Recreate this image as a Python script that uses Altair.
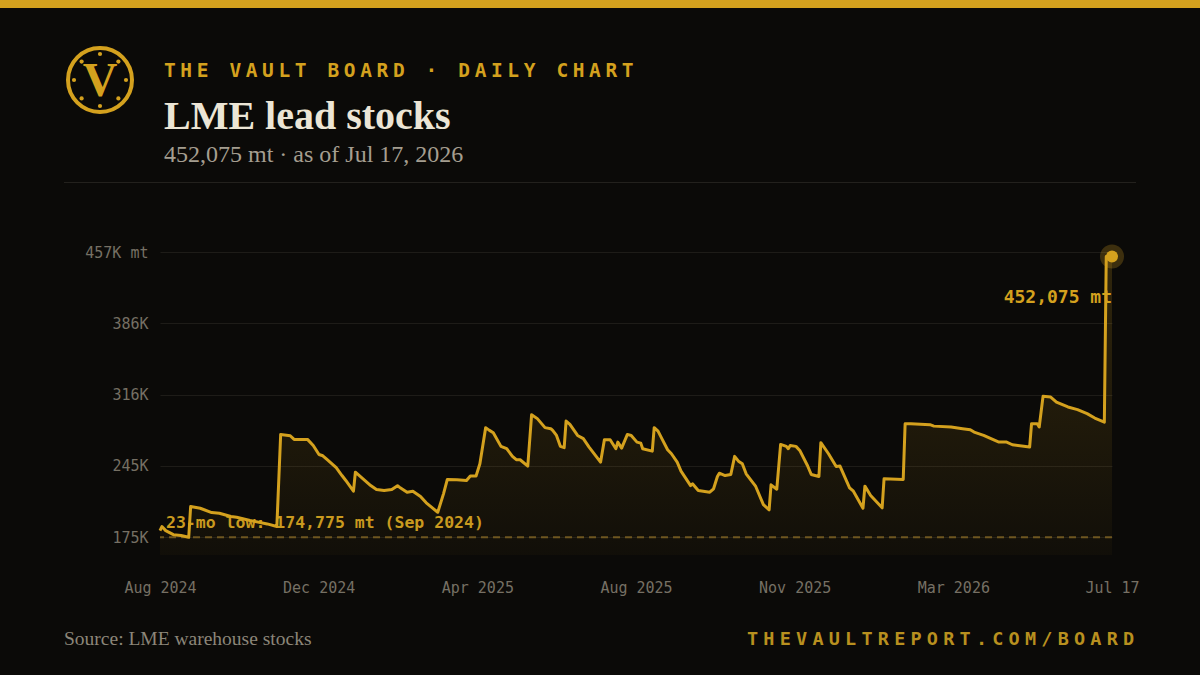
import json
import math
import altair as alt
import pandas as pd

# ---------------- data ----------------
day = [0, 1, 3, 7, 11, 15, 16, 21, 27, 31, 37, 40, 47, 56, 61, 63, 68, 70, 77, 80,
       83, 85, 87, 92, 95, 97, 101, 102, 106, 110, 113, 117, 121, 124, 125, 129, 132, 136, 139, 145,
       148, 150, 155, 160, 162, 165, 167, 170, 172, 174, 178, 181, 184, 186, 188, 192, 194, 197, 201, 204,
       205, 207, 209, 211, 212, 214, 218, 221, 224, 230, 232, 235, 238, 239, 241, 244, 246, 249, 251, 252,
       257, 258, 260, 262, 265, 267, 270, 272, 277, 278, 281, 287, 289, 291, 292, 295, 298, 300, 302, 304,
       306, 311, 315, 318, 319, 322, 324, 327, 328, 329, 332, 334, 338, 340, 344, 345, 349, 353, 355, 360,
       362, 367, 368, 371, 377, 378, 388, 389, 392, 402, 404, 413, 419, 423, 425, 430, 435, 438, 442, 445,
       454, 455, 458, 459, 461, 465, 468, 474, 479, 484, 488, 493, 494, 497]
stock_mt = [181400, 185400, 181400, 177400, 176500, 174775, 205200, 203500, 199200, 198500,
            195300, 194600, 191300, 188000, 185400, 276400, 275100, 271500, 271500, 265500,
            256600, 255300, 252000, 243500, 235800, 230900, 220300, 239100, 232600, 225900,
            222000, 221000, 222000, 225700, 224300, 219300, 220300, 215100, 208800, 199500,
            217700, 231900, 231600, 230900, 235400, 235400, 247400, 283100, 280400, 278100,
            264600, 262300, 254700, 251400, 251400, 245100, 295900, 292000, 283100, 282100,
            280400, 275400, 264600, 263300, 289600, 286300, 275400, 272200, 263900, 249000,
            271200, 271200, 262300, 268800, 262900, 276400, 275400, 268800, 267800, 262300,
            259900, 283100, 279700, 272200, 261300, 257300, 249000, 240100, 225900, 227600,
            221000, 219300, 222700, 234900, 238100, 235800, 236800, 254700, 250000, 247400,
            237500, 225000, 207100, 201900, 226600, 222300, 266500, 264600, 262300, 265500,
            264600, 260600, 245700, 236800, 234900, 268200, 257300, 244800, 245100, 223700,
            220300, 203500, 225300, 216100, 203900, 232600, 231900, 287000, 287000, 286000,
            284600, 283700, 282100, 281100, 278700, 275400, 271200, 268800, 268800, 266200,
            263900, 287000, 287000, 283700, 314000, 313300, 308400, 303500, 300900, 296900,
            292600, 288600, 452075, 452075]
x_labels = ["Aug 2024", "Dec 2024", "Apr 2025", "Aug 2025", "Nov 2025", "Mar 2026", "Jul 17"]

kicker = "THE VAULT BOARD · DAILY CHART"
title_text = "LME lead stocks"
as_of = "Jul 17, 2026"
low_label = "23-mo low: 174,775 mt (Sep 2024)"
source_text = "Source: LME warehouse stocks"
url_text = "THEVAULTREPORT.COM/BOARD"

# ---------------- styles ----------------
GOLD = "#d4a11e"
BG = "#0b0a08"
MONO = "DejaVu Sans Mono"
SERIF = "Liberation Serif"
AXIS_GREY = "#767064"
W, H = 952, 303
PAD_L, PAD_T, PAD_R, PAD_B = 160, 252, 88, 120

df = pd.DataFrame({"day": day, "stock": stock_mt})
last_day = day[-1]
last_val = stock_mt[-1]
low = min(stock_mt)
y_top = max(stock_mt) * 1.01
y_bot = low * 0.9
y_ticks = [low + i * (y_top - low) / 4 for i in range(5)]
x_ticks = [last_day * k / 6 for k in range(7)]

x_scale = alt.Scale(domain=[0, last_day], nice=False, zero=False)
y_scale = alt.Scale(domain=[y_bot, y_top], nice=False, zero=False)

x_axis = alt.Axis(values=x_ticks, labelExpr=f"{json.dumps(x_labels)}[round(datum.value*6/{last_day})]",
                  grid=False, domain=False, ticks=False, labelPadding=25, labelFlush=False,
                  labelOverlap=False, labelFont=MONO, labelFontSize=15, labelColor=AXIS_GREY, title=None)
y_axis = alt.Axis(values=y_ticks,
                  labelExpr="round(datum.value/1000) + 'K' + (datum.value > 450000 ? ' mt' : '')",
                  grid=True, gridColor="#1e1c18", gridWidth=1, domain=False, ticks=False,
                  labelPadding=12, labelFont=MONO, labelFontSize=15, labelColor=AXIS_GREY, title=None)

def X():
    return alt.X("day:Q", scale=x_scale, axis=x_axis)

def Y():
    return alt.Y("stock:Q", scale=y_scale, axis=y_axis)

gradient = alt.Gradient(gradient="linear",
                        stops=[alt.GradientStop(color="rgba(212,161,30,0.03)", offset=0),
                               alt.GradientStop(color="rgba(212,161,30,0.19)", offset=1)],
                        x1=1, x2=1, y1=1, y2=0)

base = alt.Chart(df)
area = base.mark_area(color=gradient).encode(x=X(), y=Y(), y2=alt.datum(y_bot))
line = base.mark_line(color=GOLD, strokeWidth=3, strokeJoin="round").encode(x=X(), y=Y())

low_df = pd.DataFrame({"stock": [low]})
low_rule = alt.Chart(low_df).mark_rule(color="#6e5620", strokeDash=[7, 5], strokeWidth=2).encode(y=Y())
low_text = alt.Chart(low_df).mark_text(align="left", baseline="alphabetic", dy=-9, font=MONO,
                                        fontSize=16.5, fontWeight="bold", color="#c99a1f").encode(
    x=alt.value(6), y=Y(), text=alt.value(low_label))

end_df = pd.DataFrame({"day": [last_day], "stock": [last_val], "lab": [f"{last_val:,} mt"]})
halo = alt.Chart(end_df).mark_circle(color=GOLD, opacity=0.25, size=576).encode(x=X(), y=Y())
dot = alt.Chart(end_df).mark_circle(color=GOLD, opacity=1, size=144).encode(x=X(), y=Y())
end_text = alt.Chart(end_df).mark_text(align="right", baseline="alphabetic", dy=46, font=MONO,
                                       fontSize=18, fontWeight="bold", color=GOLD).encode(
    x=X(), y=Y(), text="lab:N")

# ---------------- decorations ----------------
one = pd.DataFrame({"k": [0]})

def rx(px):
    return px - PAD_L

def ry(py):
    return py - PAD_T

top_bar = alt.Chart(one).mark_rect(color=GOLD).encode(
    x=alt.value(rx(0)), x2=alt.value(rx(1200)), y=alt.value(ry(0)), y2=alt.value(ry(8)))

divider = alt.Chart(one).mark_rule(color="#23211d", strokeWidth=1).encode(
    x=alt.value(rx(64)), x2=alt.value(rx(1136)), y=alt.value(ry(182.5)))

def spaced_text(text, left, baseline_y, size, color, step):
    cdf = pd.DataFrame({"ch": list(text), "i": list(range(len(text)))})
    return alt.Chart(cdf).transform_calculate(
        px=f"{rx(left)} + datum.i * {step}"
    ).mark_text(align="left", baseline="alphabetic", font=MONO, fontSize=size,
                fontWeight="bold", color=color).encode(
        x=alt.X("px:Q", scale=None), y=alt.value(ry(baseline_y)), text="ch:N")

kicker_layer = spaced_text(kicker, 164, 77, 19.5, GOLD, 16.35)
url_layer = spaced_text(url_text, 747, 645, 18.5, "#b8901f", 16.35)

title_layer = alt.Chart(one).mark_text(align="left", baseline="alphabetic", font=SERIF, fontSize=40,
                                       fontWeight="bold", color="#ece5d5").encode(
    x=alt.value(rx(164)), y=alt.value(ry(129)), text=alt.value(title_text))
subtitle_layer = alt.Chart(one).mark_text(align="left", baseline="alphabetic", font=SERIF, fontSize=24,
                                          color="#a59e90").encode(
    x=alt.value(rx(164)), y=alt.value(ry(162)), text=alt.value(f"{last_val:,} mt · as of {as_of}"))
source_layer = alt.Chart(one).mark_text(align="left", baseline="alphabetic", font=SERIF, fontSize=19.5,
                                        color="#8c8679").encode(
    x=alt.value(rx(64)), y=alt.value(ry(645)), text=alt.value(source_text))

# logo
LCX, LCY = 100, 80
ring = alt.Chart(one).mark_point(shape="circle", filled=False, color=GOLD, strokeWidth=4,
                                 size=64 * 64, opacity=1).encode(
    x=alt.value(rx(LCX)), y=alt.value(ry(LCY)))
dots_df = pd.DataFrame({"a": [k * 45 for k in range(8)]})
dots_df["px"] = [rx(LCX) + 26 * math.sin(math.radians(a)) for a in dots_df["a"]]
dots_df["py"] = [ry(LCY) - 26 * math.cos(math.radians(a)) for a in dots_df["a"]]
dots = alt.Chart(dots_df).mark_circle(color=GOLD, size=18, opacity=1).encode(
    x=alt.X("px:Q", scale=None), y=alt.Y("py:Q", scale=None))
logo_v = alt.Chart(one).mark_text(align="center", baseline="alphabetic", font=SERIF, fontSize=48,
                                  fontWeight="bold", color=GOLD).encode(
    x=alt.value(rx(LCX)), y=alt.value(ry(96)), text=alt.value("V"))

chart = alt.layer(
    area, low_rule, low_text, line, halo, dot, end_text,
    top_bar, divider, kicker_layer, url_layer, title_layer, subtitle_layer, source_layer,
    ring, dots, logo_v,
).properties(
    width=W, height=H,
    padding={"left": PAD_L, "top": PAD_T, "right": PAD_R, "bottom": PAD_B},
    autosize=alt.AutoSizeParams(type="none"),
    background=BG,
).configure_view(strokeWidth=0)

chart.save("out.html", embed_options={"renderer": "svg", "actions": False})
